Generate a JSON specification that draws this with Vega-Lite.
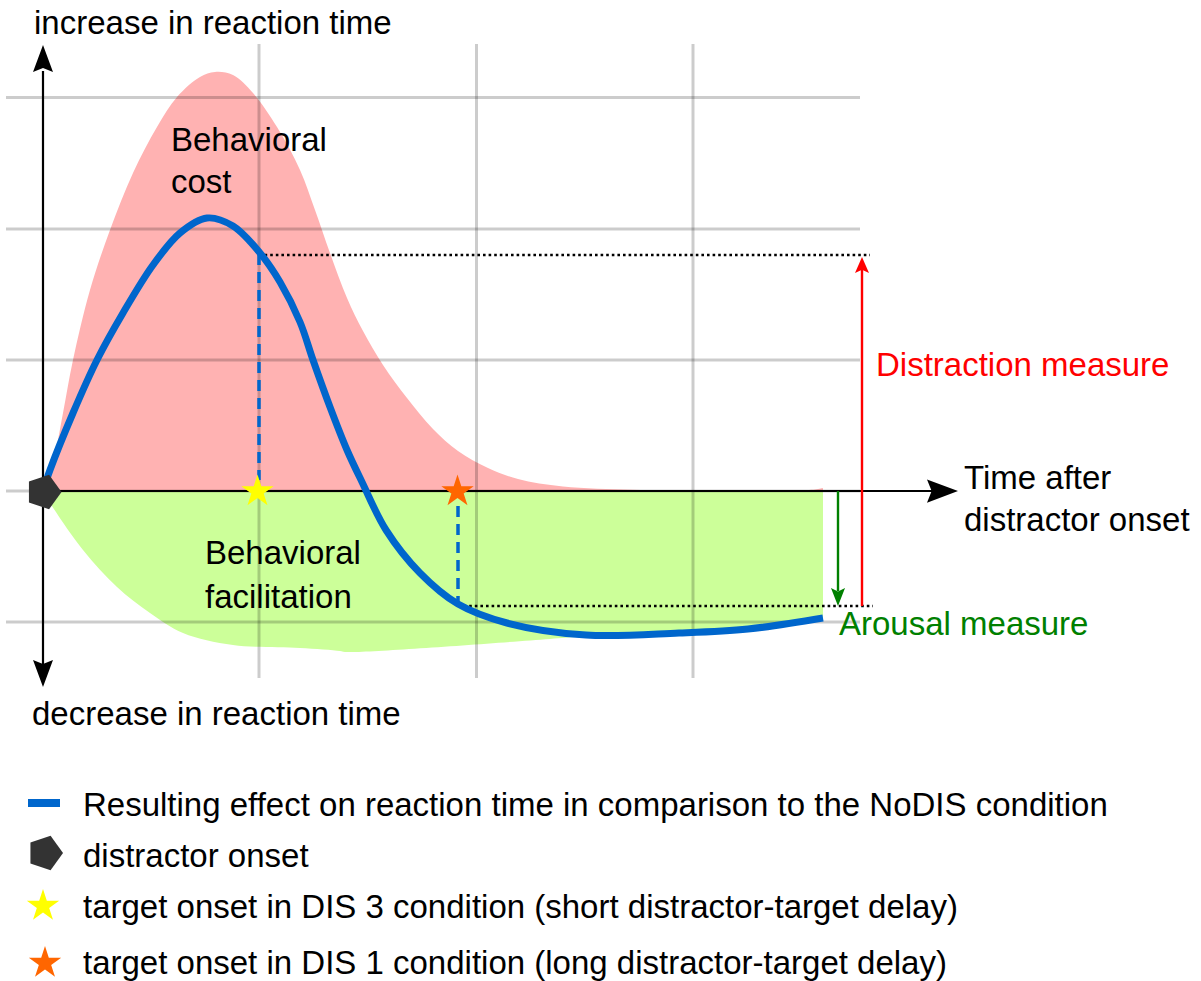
{
  "$schema": "https://vega.github.io/schema/vega-lite/v6.json",
  "width": 1201,
  "height": 981,
  "autosize": "none",
  "padding": 0,
  "background": "white",
  "config": {"view": {"stroke": null}},
  "datasets": {
    "cost": [
      {"x": 0, "y": 0}, {"x": 10, "y": 28}, {"x": 20, "y": 78}, {"x": 30, "y": 131}, {"x": 47, "y": 201},
      {"x": 67, "y": 261}, {"x": 90, "y": 318}, {"x": 114, "y": 364}, {"x": 134, "y": 394}, {"x": 157, "y": 414},
      {"x": 172, "y": 419}, {"x": 190, "y": 416}, {"x": 210, "y": 398}, {"x": 234, "y": 364}, {"x": 257, "y": 321},
      {"x": 272, "y": 281}, {"x": 287, "y": 238}, {"x": 304, "y": 193}, {"x": 320, "y": 160}, {"x": 340, "y": 126},
      {"x": 364, "y": 93}, {"x": 390, "y": 62}, {"x": 415, "y": 40}, {"x": 445, "y": 23}, {"x": 475, "y": 12},
      {"x": 520, "y": 4.5}, {"x": 590, "y": 1.2}, {"x": 657, "y": 0.6}, {"x": 772, "y": 1.5}, {"x": 780, "y": 3}
    ],
    "facil": [
      {"x": 0, "y": 0}, {"x": 7, "y": -12}, {"x": 40, "y": -59}, {"x": 74, "y": -96}, {"x": 107, "y": -122},
      {"x": 140, "y": -142}, {"x": 190, "y": -154}, {"x": 257, "y": -157}, {"x": 297, "y": -160}, {"x": 302, "y": -161},
      {"x": 532, "y": -146}, {"x": 543, "y": -145}, {"x": 636, "y": -142}, {"x": 705, "y": -138}, {"x": 780, "y": -127}
    ],
    "effect": [
      {"x": 0, "y": 0}, {"x": 7, "y": 21}, {"x": 30, "y": 78}, {"x": 54, "y": 131}, {"x": 80, "y": 178},
      {"x": 110, "y": 226}, {"x": 137, "y": 258}, {"x": 164, "y": 273}, {"x": 190, "y": 265}, {"x": 217, "y": 238},
      {"x": 237, "y": 209}, {"x": 257, "y": 169}, {"x": 270, "y": 131}, {"x": 287, "y": 84}, {"x": 304, "y": 41},
      {"x": 319, "y": 9}, {"x": 343, "y": -39}, {"x": 377, "y": -82}, {"x": 415, "y": -113}, {"x": 464, "y": -132},
      {"x": 543, "y": -144}, {"x": 636, "y": -142}, {"x": 705, "y": -138}, {"x": 780, "y": -127}
    ],
    "gridv": [
      {"x": 216, "y": 447, "x2": 216, "y2": -187},
      {"x": 433.5, "y": 447, "x2": 433.5, "y2": -187},
      {"x": 650, "y": 447, "x2": 650, "y2": -187}
    ],
    "gridh": [
      {"x": -37, "y": 393.5, "x2": 817, "y2": 393.5},
      {"x": -37, "y": 262, "x2": 817, "y2": 262},
      {"x": -37, "y": 131, "x2": 817, "y2": 131},
      {"x": -37, "y": 0, "x2": 817, "y2": 0},
      {"x": -37, "y": -131, "x2": 817, "y2": -131}
    ],
    "axes": [
      {"x": 0, "y": 420, "x2": 0, "y2": -176},
      {"x": 0, "y": 0, "x2": 890, "y2": 0}
    ],
    "dotted": [
      {"x": 216, "y": 236, "x2": 827, "y2": 236},
      {"x": 415, "y": -115, "x2": 830, "y2": -115}
    ],
    "dashed": [
      {"x": 216, "y": 237, "x2": 216, "y2": 11},
      {"x": 415, "y": -15, "x2": 415, "y2": -113}
    ],
    "redline": [{"x": 819, "y": -115, "x2": 819, "y2": 222}],
    "greenline": [{"x": 795, "y": 0, "x2": 795, "y2": -100}],
    "arrowup": [{"x": 0, "y": 432.5}],
    "arrowdown": [{"x": 0, "y": -182.5}],
    "arrowright": [{"x": 899.5, "y": 0}],
    "redhead": [{"x": 819, "y": 226}],
    "greenhead": [{"x": 795, "y": -106}],
    "onset": [{"x": 0.5, "y": -1}, {"x": 2, "y": -362}],
    "dis3": [{"x": 214.5, "y": -0.5}, {"x": 0, "y": -415}],
    "dis1": [{"x": 414.5, "y": -0.5}, {"x": 2, "y": -472}],
    "legendline": [{"x": -15, "y": -312, "x2": 17, "y2": -312}],
    "labels": [
      {"x": -9, "y": 457, "t": "increase in reaction time"},
      {"x": -11, "y": -234, "t": "decrease in reaction time"},
      {"x": 128, "y": 340, "t": "Behavioral"},
      {"x": 128, "y": 298, "t": "cost"},
      {"x": 162, "y": -73, "t": "Behavioral"},
      {"x": 162, "y": -117, "t": "facilitation"},
      {"x": 921, "y": 2, "t": "Time after"},
      {"x": 921, "y": -40, "t": "distractor onset"},
      {"x": 40, "y": -325, "t": "Resulting effect on reaction time in comparison to the NoDIS condition"},
      {"x": 40, "y": -376, "t": "distractor onset"},
      {"x": 40, "y": -427, "t": "target onset in DIS 3 condition (short distractor-target delay)"},
      {"x": 40, "y": -483, "t": "target onset in DIS 1 condition (long distractor-target delay)"}
    ],
    "redlabel": [{"x": 833, "y": 115, "t": "Distraction measure"}],
    "greenlabel": [{"x": 796, "y": -144, "t": "Arousal measure"}]
  },
  "encoding": {
    "x": {"field": "x", "type": "quantitative", "scale": {"domain": [-43, 1158], "nice": false, "zero": false}, "axis": null},
    "y": {"field": "y", "type": "quantitative", "scale": {"domain": [-490, 491], "nice": false, "zero": false}, "axis": null}
  },
  "layer": [
    {"data": {"name": "cost"}, "mark": {"type": "area", "color": "#ffb2b2", "interpolate": "catmull-rom", "opacity": 1}, "encoding": {"y2": {"datum": 0}}},
    {"data": {"name": "facil"}, "mark": {"type": "area", "color": "#ccff99", "interpolate": "catmull-rom", "opacity": 1}, "encoding": {"y2": {"datum": 0}}},
    {"data": {"name": "gridv"}, "mark": {"type": "rule", "color": "black", "opacity": 0.2, "strokeWidth": 3}, "encoding": {"x2": {"field": "x2"}, "y2": {"field": "y2"}}},
    {"data": {"name": "gridh"}, "mark": {"type": "rule", "color": "black", "opacity": 0.2, "strokeWidth": 3}, "encoding": {"x2": {"field": "x2"}, "y2": {"field": "y2"}}},
    {"data": {"name": "axes"}, "mark": {"type": "rule", "color": "black", "strokeWidth": 2.2}, "encoding": {"x2": {"field": "x2"}, "y2": {"field": "y2"}}},
    {"data": {"name": "dotted"}, "mark": {"type": "rule", "color": "black", "strokeWidth": 2.6, "strokeDash": [2.6, 3]}, "encoding": {"x2": {"field": "x2"}, "y2": {"field": "y2"}}},
    {"data": {"name": "dashed"}, "mark": {"type": "rule", "color": "#0066cc", "strokeWidth": 3.5, "strokeDash": [11, 7]}, "encoding": {"x2": {"field": "x2"}, "y2": {"field": "y2"}}},
    {"data": {"name": "redline"}, "mark": {"type": "rule", "color": "#ff0000", "strokeWidth": 2.4}, "encoding": {"x2": {"field": "x2"}, "y2": {"field": "y2"}}},
    {"data": {"name": "greenline"}, "mark": {"type": "rule", "color": "#008000", "strokeWidth": 2.4}, "encoding": {"x2": {"field": "x2"}, "y2": {"field": "y2"}}},
    {"data": {"name": "effect"}, "mark": {"type": "line", "color": "#0066cc", "strokeWidth": 7, "interpolate": "catmull-rom", "strokeCap": "butt"}, "encoding": {}},
    {"data": {"name": "legendline"}, "mark": {"type": "rule", "color": "#0066cc", "strokeWidth": 8}, "encoding": {"x2": {"field": "x2"}, "y2": {"field": "y2"}}},
    {"data": {"name": "arrowup"}, "mark": {"type": "point", "shape": "M0,-1L0.74,1L0,0.7L-0.74,1Z", "size": 729, "filled": true, "color": "black", "opacity": 1, "strokeWidth": 0}},
    {"data": {"name": "arrowdown"}, "mark": {"type": "point", "shape": "M0,1L0.74,-1L0,-0.7L-0.74,-1Z", "size": 729, "filled": true, "color": "black", "opacity": 1, "strokeWidth": 0}},
    {"data": {"name": "arrowright"}, "mark": {"type": "point", "shape": "M1,0L-1,0.75L-0.7,0L-1,-0.75Z", "size": 961, "filled": true, "color": "black", "opacity": 1, "strokeWidth": 0}},
    {"data": {"name": "redhead"}, "mark": {"type": "point", "shape": "M0,-1L0.875,1L0,0.6L-0.875,1Z", "size": 256, "filled": true, "color": "#ff0000", "opacity": 1, "strokeWidth": 0}},
    {"data": {"name": "greenhead"}, "mark": {"type": "point", "shape": "M0,1L0.78,-1L0,-0.6L-0.78,-1Z", "size": 324, "filled": true, "color": "#008000", "opacity": 1, "strokeWidth": 0}},
    {"data": {"name": "onset"}, "mark": {"type": "point", "shape": "M1,0L0.309,0.951L-0.809,0.588L-0.809,-0.588L0.309,-0.951Z", "size": 1300, "filled": true, "color": "#333333", "opacity": 1, "strokeWidth": 0}},
    {"data": {"name": "dis3"}, "mark": {"type": "point", "shape": "M0,-1L0.2245,-0.309L0.951,-0.309L0.363,0.118L0.588,0.809L0,0.382L-0.588,0.809L-0.363,0.118L-0.951,-0.309L-0.2245,-0.309Z", "size": 1156, "filled": true, "color": "#ffff00", "opacity": 1, "strokeWidth": 0}},
    {"data": {"name": "dis1"}, "mark": {"type": "point", "shape": "M0,-1L0.2245,-0.309L0.951,-0.309L0.363,0.118L0.588,0.809L0,0.382L-0.588,0.809L-0.363,0.118L-0.951,-0.309L-0.2245,-0.309Z", "size": 1156, "filled": true, "color": "#ff6600", "opacity": 1, "strokeWidth": 0}},
    {"data": {"name": "labels"}, "mark": {"type": "text", "align": "left", "baseline": "alphabetic", "font": "Liberation Sans", "fontSize": 33, "color": "black"}, "encoding": {"text": {"field": "t"}}},
    {"data": {"name": "redlabel"}, "mark": {"type": "text", "align": "left", "baseline": "alphabetic", "font": "Liberation Sans", "fontSize": 33, "color": "#ff0000"}, "encoding": {"text": {"field": "t"}}},
    {"data": {"name": "greenlabel"}, "mark": {"type": "text", "align": "left", "baseline": "alphabetic", "font": "Liberation Sans", "fontSize": 33, "color": "#008000"}, "encoding": {"text": {"field": "t"}}}
  ]
}
